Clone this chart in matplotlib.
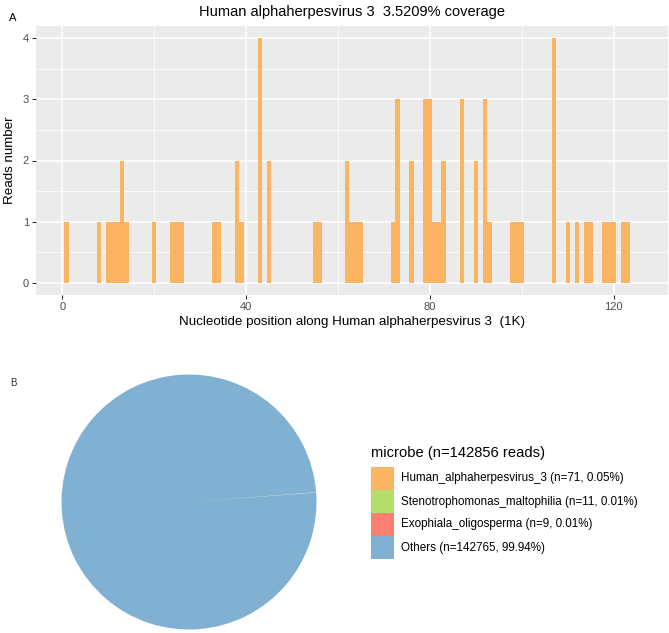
import numpy as np
import matplotlib.pyplot as plt
from matplotlib.patches import Rectangle
from matplotlib.ticker import MultipleLocator

plt.rcParams['font.family'] = ['Liberation Sans', 'DejaVu Sans']

# panel A: reads per 1K bin along the genome
positions = [1, 8, 10, 11, 12, 13, 14, 20, 24, 25, 26, 33, 34, 38, 39, 43, 45,
             55, 56, 62, 63, 64, 65, 72, 73, 76, 79, 80, 81, 82, 83, 87, 90,
             92, 93, 98, 99, 100, 107, 110, 112, 114, 115, 118, 119, 120, 122, 123]
reads = [1, 1, 1, 1, 1, 2, 1, 1, 1, 1, 1, 1, 1, 2, 1, 4, 2,
         1, 1, 2, 1, 1, 1, 1, 3, 2, 3, 3, 1, 1, 2, 3, 2,
         3, 1, 1, 1, 1, 4, 1, 1, 1, 1, 1, 1, 1, 1, 1]
x_ticks = [0, 40, 80, 120]
y_ticks = [0, 1, 2, 3, 4]

# panel B: read share per microbe
microbes = ['Human_alphaherpesvirus_3', 'Stenotrophomonas_maltophilia',
            'Exophiala_oligosperma', 'Others']
counts = [71, 11, 9, 142765]
percents = ['0.05%', '0.01%', '0.01%', '99.94%']
total_reads = 142856
colors = ['#FDB462', '#B3DE69', '#FB8072', '#80B1D3']

W, H = 669, 633
fig = plt.figure(figsize=(W / 100, H / 100), dpi=100)

ax = fig.add_axes([36 / W, 1 - 295 / H, (668 - 36) / W, (295 - 26) / H])
ax.set_facecolor('#EBEBEB')
ax.bar(positions, reads, width=1.0, color='#FDB462', linewidth=0, zorder=3)
ax.set_xlim(-5.7, 131.8)
ax.set_ylim(-0.2, 4.2)
ax.set_xticks(x_ticks)
ax.set_yticks(y_ticks)
ax.xaxis.set_minor_locator(MultipleLocator(20))
ax.yaxis.set_minor_locator(MultipleLocator(0.5))
ax.grid(which='major', color='white', linewidth=1.1, zorder=0)
ax.grid(which='minor', color='white', linewidth=0.55, zorder=0)
ax.set_axisbelow(True)
for s in ax.spines.values():
    s.set_visible(False)
ax.tick_params(which='major', length=3, width=0.8, color='#333333',
               labelcolor='#4D4D4D', labelsize=8, pad=2)
ax.tick_params(which='minor', length=0)
ax.set_xlabel('Nucleotide position along Human alphaherpesvirus 3  (1K)',
              fontsize=9.6, labelpad=3)
ax.set_ylabel('Reads number', fontsize=9.6, labelpad=5)
fig.text(352 / W, 1 - 12 / H, 'Human alphaherpesvirus 3  3.5209% coverage',
         ha='center', va='center', fontsize=10.5)
fig.text(13 / W, 1 - 18 / H, 'A', ha='center', va='center', fontsize=8)
fig.text(13 / W, 1 - 383 / H, 'B', ha='center', va='center', fontsize=7,
         color='#333333')

# pie
pax = fig.add_axes([(189 - 127.5) / W, 1 - (502 + 127.5) / H, 255 / W, 255 / H])
wedges, _ = pax.pie(counts, colors=colors, startangle=4.2, counterclock=True,
                    wedgeprops=dict(linewidth=0))
for w in wedges[:3]:
    w.set_edgecolor('#D8E2EA')
    w.set_linewidth(0.5)
pax.set_xlim(-1, 1)
pax.set_ylim(-1, 1)
pax.set_aspect('equal')

# legend
fig.text(371 / W, 1 - 453 / H, f'microbe (n={total_reads} reads)',
         ha='left', va='center', fontsize=10.6)
key = 23
for i, (m, c, p, col) in enumerate(zip(microbes, counts, percents, colors)):
    top = 467 + key * i
    fig.add_artist(Rectangle((371 / W, 1 - (top + key) / H), key / W, key / H,
                             transform=fig.transFigure, color=col, linewidth=0))
    fig.text(401 / W, 1 - (top + key / 2) / H, f'{m} (n={c}, {p})',
             ha='left', va='center', fontsize=8.4)

fig.savefig('out.png', dpi=100)
